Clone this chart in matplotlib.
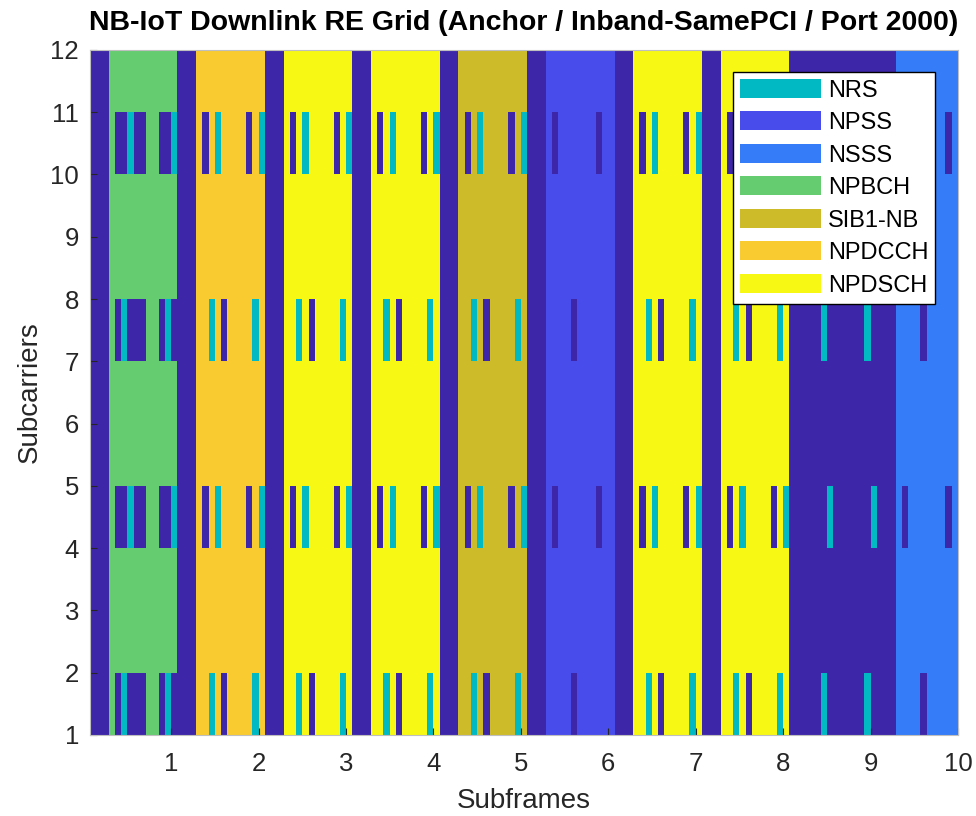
import numpy as np
import matplotlib.pyplot as plt
from matplotlib.colors import ListedColormap, BoundaryNorm
from matplotlib.patches import Patch

plt.rcParams['font.family'] = ['Liberation Sans', 'DejaVu Sans']

# ==============================================
#    Grid description (one anchor frame, 10 subframes)
# ==============================================
n_sc = 12           # subcarriers in the NB-IoT PRB
n_sym = 14          # OFDM symbols per subframe
n_sf = 10           # subframes
n_ctrl = 3          # LTE control region symbols (inband)

channels = ['Empty', 'NRS', 'NPSS', 'NSSS', 'NPBCH', 'SIB1-NB', 'NPDCCH', 'NPDSCH']
colors = ['#3e26a8', '#00b9c3', '#484ceb', '#347cf8', '#65cc70', '#cebb2a', '#facb30', '#f7f914']

sf_channel = ['NPBCH', 'NPDCCH', 'NPDSCH', 'NPDSCH', 'SIB1-NB',
              'NPSS', 'NPDSCH', 'NPDSCH', 'Empty', 'NSSS']
nrs_subframes = [0, 1, 2, 3, 4, 6, 7, 8]

# symbol -> subcarriers
crs_1port = {0: [0, 6], 4: [3, 9], 7: [0, 6], 11: [3, 9]}
crs_4port = {0: [0, 3, 6, 9], 1: [0, 3, 6, 9], 4: [0, 3, 6, 9],
             7: [0, 3, 6, 9], 8: [0, 3, 6, 9], 11: [0, 3, 6, 9]}
nrs_p2000 = {5: [0, 6], 6: [3, 9], 12: [0, 6], 13: [3, 9]}
nrs_p2001 = {5: [3, 9], 6: [0, 6], 12: [3, 9], 13: [0, 6]}

# ==============================================
#    Build the RE grid
# ==============================================
grid = np.zeros((n_sc, n_sym*n_sf), dtype=int)
for sf in range(n_sf):
    c0 = sf*n_sym
    grid[:, c0+n_ctrl:c0+n_sym] = channels.index(sf_channel[sf])
    if sf_channel[sf] == 'NPBCH':
        reserved = [crs_4port, nrs_p2001]
    else:
        reserved = [crs_1port]
    for res in reserved:
        for sym, scs in res.items():
            grid[scs, c0+sym] = 0
    if sf in nrs_subframes:
        for sym, scs in nrs_p2000.items():
            grid[scs, c0+sym] = channels.index('NRS')

x = np.arange(1, n_sym*n_sf+1)/n_sym
y = np.arange(1, n_sc+1)

cmap = ListedColormap(colors)
norm = BoundaryNorm(np.arange(len(colors)+1)-0.5, len(colors))

fig = plt.figure(figsize=(9.76, 8.16), dpi=100)
ax = fig.add_axes([0.0922, 0.0993, 0.8893, 0.8395])
ax.pcolormesh(x, y, grid[:-1, :-1], shading='flat', cmap=cmap, norm=norm)

ax.set_xlim(x[0], x[-1])
ax.set_ylim(y[0], y[-1])
ax.set_xticks(np.arange(1, 11))
ax.set_yticks(np.arange(1, 13))
ax.tick_params(direction='in', length=5, labelsize=18.5, colors='#262626')
ax.tick_params(axis='x', pad=12)
ax.tick_params(axis='y', pad=8)
for s in ax.spines.values():
    s.set_color('#bfbfbf')
ax.set_xlabel('Subframes', fontsize=20, color='#262626', labelpad=9)
ax.set_ylabel('Subcarriers', fontsize=20, color='#262626', labelpad=5)
ax.set_title('NB-IoT Downlink RE Grid (Anchor / Inband-SamePCI / Port 2000)',
             fontsize=20.5, fontweight='bold', pad=14)

handles = [Patch(facecolor=colors[i], edgecolor='none', label=channels[i])
           for i in range(1, len(channels))]
leg = ax.legend(handles=handles, loc='upper right', bbox_to_anchor=(0.974, 0.968),
                fontsize=17, handlelength=3.4, handleheight=0.85, labelspacing=0.42,
                handletextpad=0.3, borderpad=0.3, borderaxespad=0.0, fancybox=False,
                framealpha=1.0, edgecolor='black')
leg.get_frame().set_linewidth(1.0)

plt.savefig('out.png', dpi=100)
